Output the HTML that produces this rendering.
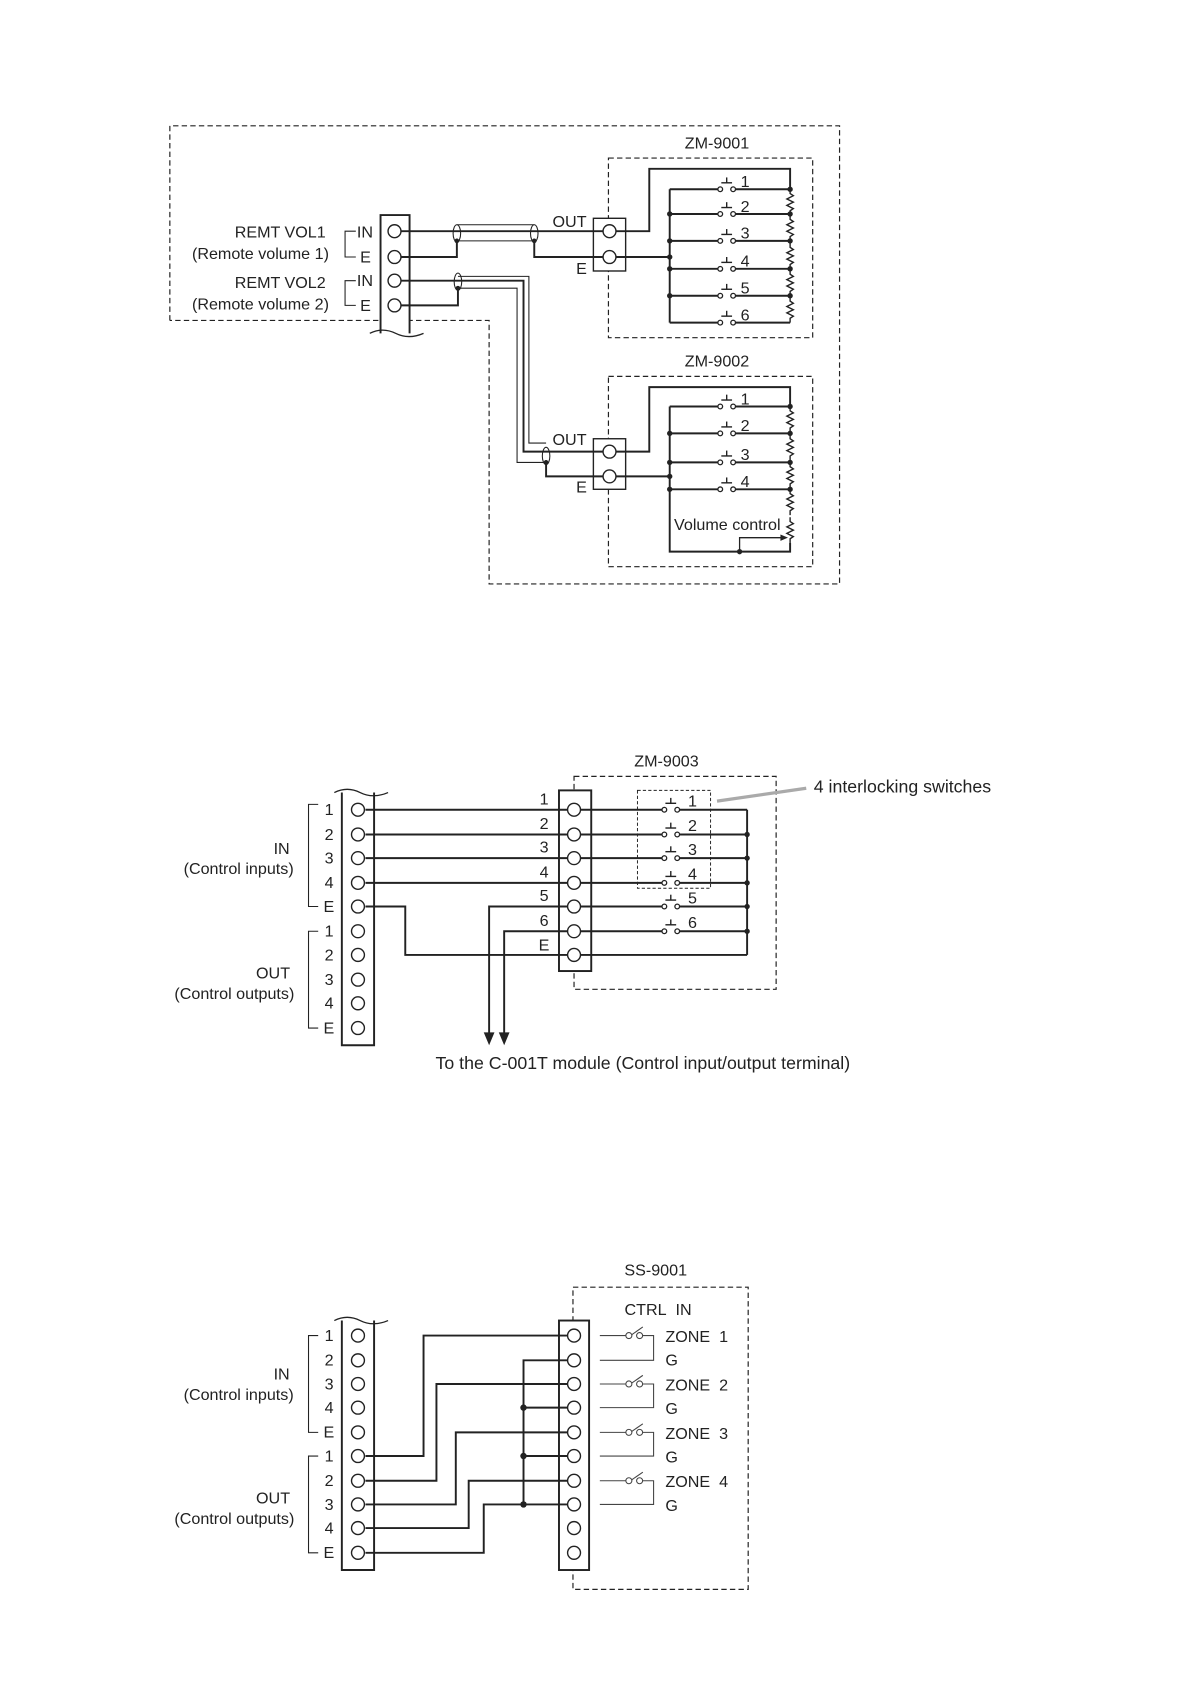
<!DOCTYPE html>
<html><head><meta charset="utf-8"><style>
html,body{margin:0;padding:0;background:#fff;}
svg{display:block;}
text{font-family:"Liberation Sans",sans-serif;fill:#222;}
</style></head><body>
<svg width="1190" height="1684" viewBox="0 0 1107 1566" preserveAspectRatio="none" xmlns="http://www.w3.org/2000/svg">
<defs>
<g id="sw"><line x1="-5" y1="-6" x2="5" y2="-6" stroke="#222" stroke-width="1.3"/><line x1="0" y1="-6" x2="0" y2="-11" stroke="#222" stroke-width="1.3"/><circle cx="-6" cy="0" r="2.2" fill="#fff" stroke="#222" stroke-width="1.2"/><circle cx="6" cy="0" r="2.2" fill="#fff" stroke="#222" stroke-width="1.2"/></g>
<g id="res"><polyline points="0,0 0,4 3,6 -3,9 3,12 -3,15 3,18 0,20 0,24" fill="none" stroke="#222" stroke-width="1.3"/></g>
</defs>
<g fill="none" stroke="#222" stroke-width="1.1" stroke-dasharray="5,3">
<polyline points="158,298 158,117 781,117 781,543 455,543 455,298 158,298"/>
<rect x="566" y="147" width="190" height="167"/>
<rect x="566" y="350" width="190" height="177"/>
<rect x="534" y="722" width="188" height="198"/>
<rect x="593" y="735" width="68" height="91" stroke-width="0.9" stroke-dasharray="3,2"/>
<rect x="533" y="1197" width="163" height="281"/>
</g>
<g fill="none" stroke="#222" stroke-width="1.8">
<!-- D1 strip -->
<rect x="354" y="200" width="27" height="110" fill="#fff" stroke="none"/>
<polyline points="354,310 354,200 381,200 381,310"/>
<path d="M344,310 q12,-6 24,0 t26,0" stroke-width="1.2"/>
<polyline points="331,215 321,215 321,239 331,239" stroke-width="1"/>
<polyline points="331,261 321,261 321,284 331,284" stroke-width="1"/>
<rect x="552" y="203" width="30" height="49" stroke-width="1.3" fill="#fff"/>
<rect x="552" y="408" width="30" height="47" stroke-width="1.3" fill="#fff"/>
<!-- VOL1 wires -->
<line x1="372" y1="215" x2="561" y2="215"/>
<polyline points="372,239 425,239 425,224"/>
<polyline points="497,224 497,239 561,239"/>
<line x1="425" y1="209" x2="497" y2="209" stroke-width="1"/>
<line x1="425" y1="224" x2="497" y2="224" stroke-width="1"/>
<ellipse cx="425" cy="217" rx="3.5" ry="8" stroke-width="1"/>
<ellipse cx="497" cy="217" rx="3.5" ry="8" stroke-width="1"/>
<!-- VOL2 wires -->
<polyline points="372,261 487,261 487,420 561,420"/>
<polyline points="426,257 492,257 492,412 508,412" stroke-width="1"/>
<polyline points="426,268 481,268 481,430 508,430" stroke-width="1"/>
<ellipse cx="426" cy="262" rx="3.5" ry="8" stroke-width="1"/>
<ellipse cx="508" cy="424" rx="3.5" ry="8" stroke-width="1"/>
<polyline points="372,284 426,284 426,268"/>
<polyline points="508,430 508,443 561,443"/>
<!-- ZM-9001 -->
<polyline points="573,215 604,215 604,157 735,157 735,176"/>
<line x1="573" y1="239" x2="623" y2="239"/>
<line x1="623" y1="176" x2="623" y2="300"/>
<path d="M623,176H670M682,176H735M623,199H670M682,199H735M623,224H670M682,224H735M623,250H670M682,250H735M623,275H670M682,275H735M623,300H670M682,300H735"/>
<!-- ZM-9002 -->
<polyline points="573,420 604,420 604,360 735,360 735,378"/>
<line x1="573" y1="443" x2="623" y2="443"/>
<polyline points="623,378 623,513 735,513 735,505"/>
<path d="M623,378H670M682,378H735M623,403H670M682,403H735M623,430H670M682,430H735M623,455H670M682,455H735"/>
<polyline points="688,513 688,500 728,500" stroke-width="1.2"/>
</g>
<g fill="#fff" stroke="#222" stroke-width="1.3">
<circle cx="367" cy="215" r="6"/><circle cx="367" cy="239" r="6"/><circle cx="367" cy="261" r="6"/><circle cx="367" cy="284" r="6"/>
<circle cx="567" cy="215" r="6"/><circle cx="567" cy="239" r="6"/><circle cx="567" cy="420" r="6"/><circle cx="567" cy="443" r="6"/>
</g>
<g>
<use href="#sw" x="676" y="176"/><use href="#sw" x="676" y="199"/><use href="#sw" x="676" y="224"/><use href="#sw" x="676" y="250"/><use href="#sw" x="676" y="275"/><use href="#sw" x="676" y="300"/>
<use href="#sw" x="676" y="378"/><use href="#sw" x="676" y="403"/><use href="#sw" x="676" y="430"/><use href="#sw" x="676" y="455"/>
<use href="#res" x="735" y="176"/><use href="#res" x="735" y="200"/><use href="#res" x="735" y="226"/><use href="#res" x="735" y="251"/><use href="#res" x="735" y="276"/>
<use href="#res" x="735" y="378"/><use href="#res" x="735" y="404"/><use href="#res" x="735" y="430"/><use href="#res" x="735" y="455"/><use href="#res" x="735" y="481"/>
<polygon points="733,500 726,497 726,503" fill="#222"/>
</g>
<g fill="#222">
<circle cx="425" cy="224" r="2.2"/><circle cx="497" cy="224" r="2.2"/><circle cx="426" cy="268" r="2.2"/><circle cx="508" cy="430" r="2.2"/>
<circle cx="623" cy="199" r="2.5"/><circle cx="623" cy="224" r="2.5"/><circle cx="623" cy="239" r="2.5"/><circle cx="623" cy="250" r="2.5"/><circle cx="623" cy="275" r="2.5"/>
<circle cx="735" cy="176" r="2.5"/><circle cx="735" cy="199" r="2.5"/><circle cx="735" cy="224" r="2.5"/><circle cx="735" cy="250" r="2.5"/><circle cx="735" cy="275" r="2.5"/>
<circle cx="623" cy="403" r="2.5"/><circle cx="623" cy="430" r="2.5"/><circle cx="623" cy="443" r="2.5"/><circle cx="623" cy="455" r="2.5"/>
<circle cx="735" cy="378" r="2.5"/><circle cx="735" cy="403" r="2.5"/><circle cx="735" cy="430" r="2.5"/><circle cx="735" cy="455" r="2.5"/><circle cx="688" cy="513" r="2.5"/>
</g>
<g font-size="15">
<text x="667" y="138" text-anchor="middle">ZM-9001</text>
<text x="667" y="341" text-anchor="middle">ZM-9002</text>
<text x="303" y="221" text-anchor="end">REMT VOL1</text>
<text x="306" y="241" text-anchor="end">(Remote volume 1)</text>
<text x="303" y="268" text-anchor="end">REMT VOL2</text>
<text x="306" y="288" text-anchor="end">(Remote volume 2)</text>
<text x="332" y="221">IN</text><text x="335" y="244">E</text>
<text x="332" y="266">IN</text><text x="335" y="289">E</text>
<text x="514" y="211">OUT</text><text x="536" y="255">E</text>
<text x="514" y="414">OUT</text><text x="536" y="458">E</text>
<text x="689" y="174">1</text><text x="689" y="197">2</text><text x="689" y="222">3</text><text x="689" y="248">4</text><text x="689" y="273">5</text><text x="689" y="298">6</text>
<text x="689" y="376">1</text><text x="689" y="401">2</text><text x="689" y="428">3</text><text x="689" y="453">4</text>
<text x="627" y="493">Volume control</text>
</g>

<!-- Diagram 2 -->
<g fill="none" stroke="#222" stroke-width="1.8">
<rect x="318" y="737" width="30" height="235" fill="#fff" stroke="none"/>
<polyline points="318,737 318,972 348,972 348,737"/>
<path d="M311,737 q12,-6 24,0 t26,0" stroke-width="1.2"/>
<rect x="520" y="735" width="30" height="168" fill="#fff"/>
<polyline points="296,748 287,748 287,843 296,843" stroke-width="1"/>
<polyline points="296,866 287,866 287,956 296,956" stroke-width="1"/>
<path d="M340,753H528M340,776H528M340,798H528M340,821H528"/>
<polyline points="340,843 377,843 377,888 528,888"/>
<polyline points="528,843 455,843 455,962"/>
<polyline points="528,866 469,866 469,962"/>
<path d="M540,753H618M630,753H695M540,776H618M630,776H695M540,798H618M630,798H695M540,821H618M630,821H695M540,843H618M630,843H695M540,866H618M630,866H695M540,888H695"/>
<line x1="695" y1="753" x2="695" y2="888"/>
</g>
<line x1="667" y1="745" x2="750" y2="733" stroke="#aaa" stroke-width="3"/>
<g fill="#222"><polygon points="450,960 460,960 455,972"/><polygon points="464,960 474,960 469,972"/>
<circle cx="695" cy="776" r="2.5"/><circle cx="695" cy="798" r="2.5"/><circle cx="695" cy="821" r="2.5"/><circle cx="695" cy="843" r="2.5"/><circle cx="695" cy="866" r="2.5"/></g>
<g fill="#fff" stroke="#222" stroke-width="1.3">
<circle cx="333" cy="753" r="6"/><circle cx="333" cy="776" r="6"/><circle cx="333" cy="798" r="6"/><circle cx="333" cy="821" r="6"/><circle cx="333" cy="843" r="6"/><circle cx="333" cy="866" r="6"/><circle cx="333" cy="888" r="6"/><circle cx="333" cy="911" r="6"/><circle cx="333" cy="933" r="6"/><circle cx="333" cy="956" r="6"/>
<circle cx="534" cy="753" r="6"/><circle cx="534" cy="776" r="6"/><circle cx="534" cy="798" r="6"/><circle cx="534" cy="821" r="6"/><circle cx="534" cy="843" r="6"/><circle cx="534" cy="866" r="6"/><circle cx="534" cy="888" r="6"/>
</g>
<g><use href="#sw" x="624" y="753"/><use href="#sw" x="624" y="776"/><use href="#sw" x="624" y="798"/><use href="#sw" x="624" y="821"/><use href="#sw" x="624" y="843"/><use href="#sw" x="624" y="866"/></g>
<g font-size="15">
<text x="620" y="713" text-anchor="middle">ZM-9003</text>
<text x="757" y="737" font-size="16.5">4 interlocking switches</text>
<text x="598" y="994" text-anchor="middle" font-size="16.5">To the C-001T module (Control input/output terminal)</text>
<text x="262" y="794" text-anchor="middle">IN</text><text x="222" y="813" text-anchor="middle">(Control inputs)</text>
<text x="254" y="910" text-anchor="middle">OUT</text><text x="218" y="929" text-anchor="middle">(Control outputs)</text>
<text x="302" y="758">1</text><text x="302" y="781">2</text><text x="302" y="803">3</text><text x="302" y="826">4</text><text x="301" y="848">E</text>
<text x="302" y="871">1</text><text x="302" y="893">2</text><text x="302" y="916">3</text><text x="302" y="938">4</text><text x="301" y="961">E</text>
<text x="502" y="748">1</text><text x="502" y="771">2</text><text x="502" y="793">3</text><text x="502" y="816">4</text><text x="502" y="838">5</text><text x="502" y="861">6</text><text x="501" y="884">E</text>
<text x="640" y="750">1</text><text x="640" y="773">2</text><text x="640" y="795">3</text><text x="640" y="818">4</text><text x="640" y="840">5</text><text x="640" y="863">6</text>
</g>

<!-- Diagram 3 -->
<g fill="none" stroke="#222" stroke-width="1.8">
<rect x="318" y="1228" width="30" height="232" fill="#fff" stroke="none"/>
<polyline points="318,1228 318,1460 348,1460 348,1228"/>
<path d="M311,1228 q12,-6 24,0 t26,0" stroke-width="1.2"/>
<rect x="520" y="1228" width="28" height="232" fill="#fff"/>
<polyline points="296,1242 287,1242 287,1332 296,1332" stroke-width="1"/>
<polyline points="296,1354 287,1354 287,1444 296,1444" stroke-width="1"/>
<polyline points="340,1354 394,1354 394,1242 528,1242"/>
<polyline points="340,1377 406,1377 406,1287 528,1287"/>
<polyline points="340,1399 424,1399 424,1332 528,1332"/>
<polyline points="340,1421 436,1421 436,1377 528,1377"/>
<polyline points="340,1444 450,1444 450,1399 528,1399"/>
<polyline points="528,1265 487,1265 487,1399"/>
<path d="M487,1309H528M487,1354H528"/>
</g>
<g fill="none" stroke="#444" stroke-width="1">
<path d="M558,1242H583M598,1242H608V1265H558"/><line x1="585" y1="1243" x2="598" y2="1234"/>
<path d="M558,1287H583M598,1287H608V1309H558"/><line x1="585" y1="1288" x2="598" y2="1279"/>
<path d="M558,1332H583M598,1332H608V1354H558"/><line x1="585" y1="1333" x2="598" y2="1324"/>
<path d="M558,1377H583M598,1377H608V1399H558"/><line x1="585" y1="1378" x2="598" y2="1369"/>
</g>
<g fill="#fff" stroke="#444" stroke-width="1"><circle cx="585" cy="1242" r="2.8"/><circle cx="595" cy="1242" r="2.8"/><circle cx="585" cy="1287" r="2.8"/><circle cx="595" cy="1287" r="2.8"/><circle cx="585" cy="1332" r="2.8"/><circle cx="595" cy="1332" r="2.8"/><circle cx="585" cy="1377" r="2.8"/><circle cx="595" cy="1377" r="2.8"/></g>
<g fill="#222"><circle cx="487" cy="1309" r="3"/><circle cx="487" cy="1354" r="3"/><circle cx="487" cy="1399" r="3"/></g>
<g fill="#fff" stroke="#222" stroke-width="1.3">
<circle cx="333" cy="1242" r="6"/><circle cx="333" cy="1265" r="6"/><circle cx="333" cy="1287" r="6"/><circle cx="333" cy="1309" r="6"/><circle cx="333" cy="1332" r="6"/><circle cx="333" cy="1354" r="6"/><circle cx="333" cy="1377" r="6"/><circle cx="333" cy="1399" r="6"/><circle cx="333" cy="1421" r="6"/><circle cx="333" cy="1444" r="6"/>
<circle cx="534" cy="1242" r="6"/><circle cx="534" cy="1265" r="6"/><circle cx="534" cy="1287" r="6"/><circle cx="534" cy="1309" r="6"/><circle cx="534" cy="1332" r="6"/><circle cx="534" cy="1354" r="6"/><circle cx="534" cy="1377" r="6"/><circle cx="534" cy="1399" r="6"/><circle cx="534" cy="1421" r="6"/><circle cx="534" cy="1444" r="6"/>
</g>
<g font-size="15">
<text x="610" y="1186" text-anchor="middle">SS-9001</text>
<text x="581" y="1223">CTRL&#160; IN</text>
<text x="619" y="1248">ZONE&#160; 1</text><text x="619" y="1270">G</text>
<text x="619" y="1293">ZONE&#160; 2</text><text x="619" y="1315">G</text>
<text x="619" y="1338">ZONE&#160; 3</text><text x="619" y="1360">G</text>
<text x="619" y="1383">ZONE&#160; 4</text><text x="619" y="1405">G</text>
<text x="262" y="1283" text-anchor="middle">IN</text><text x="222" y="1302" text-anchor="middle">(Control inputs)</text>
<text x="254" y="1398" text-anchor="middle">OUT</text><text x="218" y="1417" text-anchor="middle">(Control outputs)</text>
<text x="302" y="1247">1</text><text x="302" y="1270">2</text><text x="302" y="1292">3</text><text x="302" y="1314">4</text><text x="301" y="1337">E</text>
<text x="302" y="1359">1</text><text x="302" y="1382">2</text><text x="302" y="1404">3</text><text x="302" y="1426">4</text><text x="301" y="1449">E</text>
</g>
</svg>
</body></html>
